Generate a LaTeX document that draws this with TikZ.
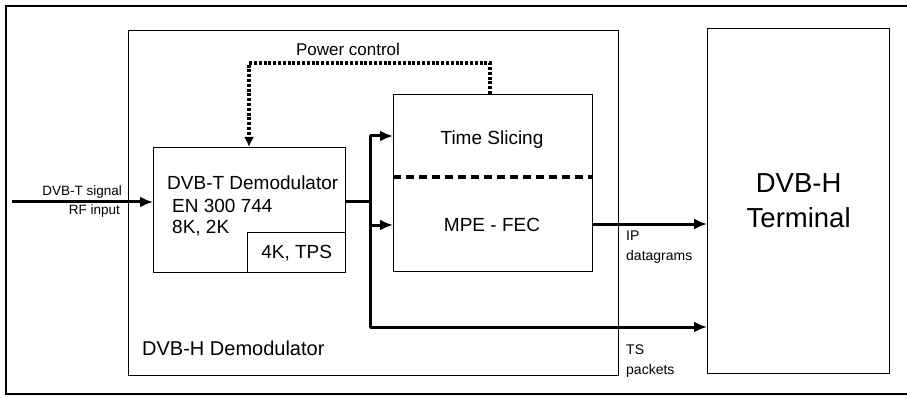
\documentclass[tikz,border=0pt]{standalone}
\usepackage{fontspec}
\setmainfont{Liberation Sans}
\usetikzlibrary{shapes,arrows,arrows.meta,positioning,calc}

\tikzset{
  blk/.style={draw, line width=1.3pt, inner sep=0pt, anchor=north west},
  sig/.style={line width=3pt, -{Latex[length=13pt,width=11pt]}},
  bus/.style={line width=3pt},
  pwr/.style={line width=3.4pt, dash pattern=on 3pt off 1.8pt, -{Latex[length=10pt,width=10pt]}}
}

\begin{document}
\begin{tikzpicture}[x=1pt,y=-1pt]

\useasboundingbox (0,0) rectangle (907,398);

% outer frame
\draw[line width=1.2pt] (907,6) -- (6,6) -- (6,394) -- (907,394);

\node[
    blk,
    minimum width=490pt,
    minimum height=345pt
  ] (DEMH) at (128, 30) {};
\node[anchor=west, inner sep=0pt, font=\fontsize{20}{24}\selectfont] (DEMHlabel) at (142, 348) {DVB-H Demodulator};

\node[
    blk,
    minimum width=192pt,
    minimum height=125pt
  ] (DEMT) at (153, 147) {};
\node[
    draw,
    line width=1.3pt,
    inner sep=0pt,
    minimum width=98pt,
    minimum height=40pt,
    anchor=south east,
    font=\fontsize{19}{23}\selectfont
  ] (TPS) at (DEMT.south east) {4K, TPS};

\node[anchor=west, inner sep=0pt, font=\fontsize{19}{23}\selectfont] (DEMTa) at (167, 183) {DVB-T Demodulator};
\node[anchor=west, inner sep=0pt, font=\fontsize{19}{23}\selectfont] (DEMTb) at (172, 206) {EN 300 744};
\node[anchor=west, inner sep=0pt, font=\fontsize{19}{23}\selectfont] (DEMTc) at (172, 228) {8K, 2K};

\node[
    blk,
    minimum width=199pt,
    minimum height=177pt
  ] (MPE) at (393, 94) {};
\node[font=\fontsize{19}{23}\selectfont] (TSL) at (492, 140) {Time Slicing};
\node[font=\fontsize{19}{23}\selectfont] (FEC) at (492, 225) {MPE - FEC};
\draw[line width=3.5pt, dash pattern=on 8pt off 5pt] (MPE.west |- 0,177) -- (MPE.east |- 0,177);

\node[
    blk,
    minimum width=182pt,
    minimum height=345pt
  ] (TERM) at (707, 28) {};
\node[align=center, font=\fontsize{27.5}{35}\selectfont] (TERMlabel) at (TERM.center) {DVB-H\\Terminal};

% power control loop
\node[font=\fontsize{17}{20}\selectfont] (PWR) at (348, 49) {Power control};
\draw[pwr] (MPE.north -| 490,0) -- (490,63) -- (249,63) -- (DEMT.north -| 249,0);

% input
\coordinate (IN) at (12, 202);
\draw[sig] (IN) -- (IN -| DEMT.west);
\node[anchor=east, inner sep=0pt, font=\fontsize{13.5}{15}\selectfont] (INa) at (122, 192) {DVB-T signal};
\node[anchor=east, inner sep=0pt, font=\fontsize{13.5}{15}\selectfont] (INb) at (120, 211) {RF input};

% outputs
\coordinate (J) at (370, 202);
\coordinate (BT) at (370, 136);
\coordinate (BB) at (370, 327);
\draw[bus] (J -| DEMT.east) -- (J);
\draw[bus, line cap=round] (BT) -- (BB);
\draw[sig] (BT) -- (BT -| MPE.west);
\draw[sig] (J |- 0,225) -- (MPE.west |- 0,225);
\draw[sig] (MPE.east |- 0,224) -- (TERM.west |- 0,224);
\draw[sig] (BB) -- (BB -| TERM.west);

\node[anchor=north west, inner sep=0pt, align=left, font=\fontsize{14}{20}\selectfont] (IPD) at (626, 231) {IP\\datagrams};
\node[anchor=north west, inner sep=0pt, align=left, font=\fontsize{14}{20}\selectfont] (TSP) at (626, 345) {TS\\packets};

\end{tikzpicture}
\end{document}
